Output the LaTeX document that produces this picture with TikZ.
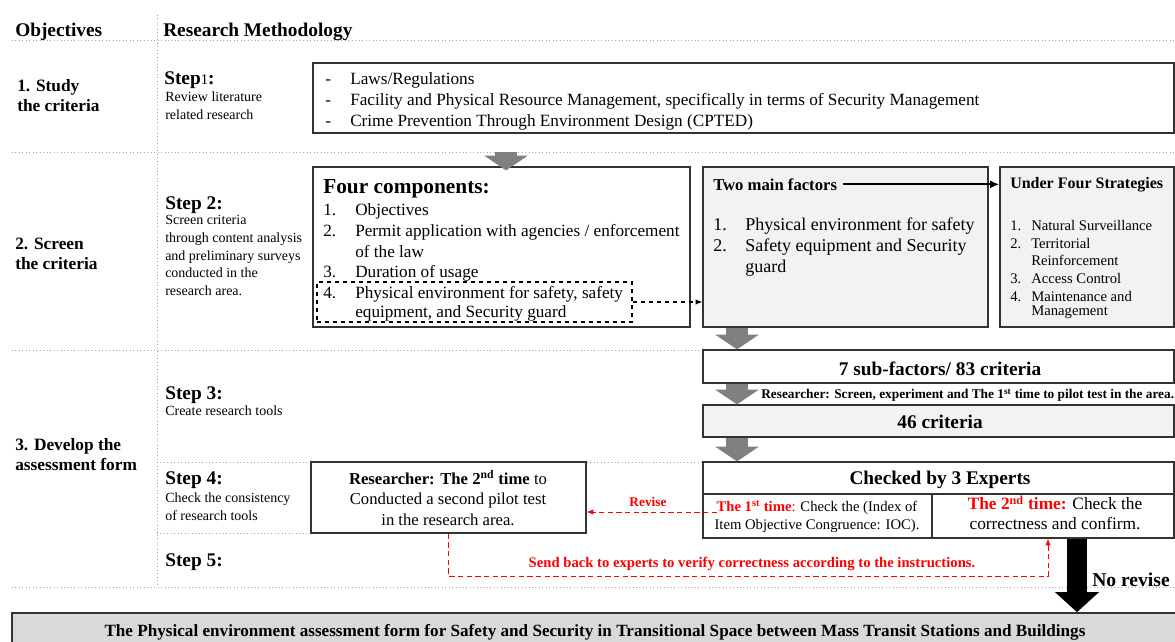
\documentclass[tikz,border=0pt]{standalone}
\usepackage{fontspec}
\setmainfont{Liberation Serif}
\usepackage{xcolor}
\usepackage{tikz}
\usetikzlibrary{arrows.meta, positioning, fit, calc}

\definecolor{boxgray}{HTML}{F2F2F2}
\definecolor{formgray}{HTML}{D9D9D9}
\definecolor{arrowgray}{HTML}{808080}
\definecolor{linegray}{HTML}{A6A6A6}
\definecolor{revred}{HTML}{FF0000}

\newcommand\headfont{\fontsize{14.5}{17}\selectfont\bfseries}
\newcommand\labfont{\fontsize{13}{15}\selectfont\bfseries}
\newcommand\stepfont{\fontsize{14.5}{17}\selectfont\bfseries}
\newcommand\descfont{\fontsize{10.5}{13.3}\selectfont}
\newcommand\bodyfont{\fontsize{12.9}{15.5}\selectfont}
\newcommand\stratfont{\fontsize{11}{13}\selectfont}
\newcommand\notefont{\fontsize{10}{12}\selectfont\bfseries}

\begin{document}
\begin{tikzpicture}[x=0.75pt,y=-0.75pt,inner sep=0pt,
  panel/.style={draw=black!80,line width=0.9pt,fill=white,inner sep=0pt},
  graypanel/.style={panel,fill=boxgray},
  sepline/.style={linegray,dotted,line width=0.6pt},
  blockarrow/.style={arrowgray,line width=16.5pt,-{Triangle[length=11pt,width=32pt]}},
  bigarrow/.style={black,line width=15pt,-{Triangle[length=15pt,width=32pt]}},
  redflow/.style={revred,dash pattern=on 4pt off 2.5pt,line width=0.7pt,-{Latex[length=5pt,width=4pt]}},
  txt/.style={anchor=west,yshift=-1.5pt,font=\bodyfont},
  objlbl/.style={anchor=north west,yshift=-1.5pt,align=left,font=\labfont},
  steplbl/.style={anchor=west,yshift=-1.5pt,font=\stepfont},
  stepdesc/.style={anchor=north west,yshift=-1.5pt,align=left,font=\descfont}]
\useasboundingbox (0,0) rectangle (1175,642);

% table lines
\foreach \y in {40,152,350,587} {
  \draw[sepline] (12,\y) -- (1175,\y);
}
\draw[sepline] (157,462) -- (1175,462);
\draw[sepline] (157,533) -- (311,533);
\draw[sepline] (157,15) -- (157,587);

\node[anchor=west,yshift=-1.5pt,font=\headfont] (hobj) at (15,30) {Objectives};
\node[anchor=west,yshift=-1.5pt,font=\headfont] (hmeth) at (163,30) {Research Methodology};

\node[objlbl] (obj1) at (17,77) {1. Study\\the criteria};
\node[objlbl] (obj2) at (15,236) {2. Screen\\the criteria};
\node[objlbl] (obj3) at (15,436) {3. Develop the\\assessment form};

\node[steplbl] (step1) at (164,78) {Step{\mdseries\fontsize{11}{12}\selectfont 1}:};
\node[stepdesc] (desc1) at (165,90) {Review literature\\related research};
\node[steplbl] (step2) at (165,203) {Step 2:};
\node[stepdesc] (desc2) at (165,213) {Screen criteria\\through content analysis\\and preliminary surveys\\conducted in the\\research area.};
\node[steplbl] (step3) at (165,393) {Step 3:};
\node[stepdesc] (desc3) at (165,404) {Create research tools};
\node[steplbl] (step4) at (165,478) {Step 4:};
\node[stepdesc] (desc4) at (165,491) {Check the consistency\\of research tools};
\node[steplbl] (step5) at (165,560) {Step 5:};

% step 1
\node[panel,fit={(313,63) (1174,133)}] (lit) {};
\foreach \t [count=\i] in {{Laws/Regulations},
    {Facility and Physical Resource Management, specifically in terms of Security Management},
    {Crime Prevention Through Environment Design (CPTED)}} {
  \node[txt] (lit\i) at (325,57+21*\i) {\makebox[18.75pt][l]{-}\t};
}

% step 2
\node[panel,fit={(313,167) (690,327)}] (comp) {};
\coordinate (a1) at (506,152);
\draw[blockarrow] (a1) -- ([yshift=-3pt]a1 |- comp.north);
\node[anchor=west,yshift=-1.5pt,font=\fontsize{16}{18}\selectfont\bfseries] (comph) at (323,187) {Four components:};
\foreach \n/\t/\y [count=\i] in {1./Objectives/209,
    2./{Permit application with agencies / enforcement}/230,
    /{of the law}/250, 3./{Duration of usage}/271,
    4./{Physical environment for safety, safety}/292,
    /{equipment, and Security guard}/311} {
  \node[txt] (comp\i) at (323,\y) {\makebox[24pt][l]{\n}\t};
}
\node[draw=black,dashed,line width=0.9pt,fit={(317,282) (632,322)}] (comp4box) {};

\node[graypanel,fit={(703,167) (988,327)}] (fac) {};
\node[anchor=west,yshift=-1pt,font=\fontsize{12.5}{15}\selectfont\bfseries] (fach) at (713,183) {Two main factors};
\foreach \n/\t/\y [count=\i] in {1./{Physical environment for safety}/224,
    2./{Safety equipment and Security}/245, /guard/266} {
  \node[txt,font=\fontsize{13.5}{16}\selectfont] (fac\i) at (713,\y) {\makebox[24pt][l]{\n}\t};
}
\draw[dashed,line width=0.8pt,-{Latex[length=5pt,width=4pt]}] (comp4box.east) -- (fac.west |- comp4box.east);

\node[graypanel,fit={(1000,167) (1174,327)}] (strat) {};
\node[anchor=west,yshift=-1pt,font=\fontsize{12}{15}\selectfont\bfseries] (strath) at (1010,183) {Under Four Strategies};
\foreach \n/\t/\y [count=\i] in {1./{Natural Surveillance}/224, 2./Territorial/242,
    /Reinforcement/259, 3./{Access Control}/277, 4./{Maintenance and}/295,
    /Management/311} {
  \node[anchor=west,yshift=-1pt,font=\stratfont] (strat\i) at (1010,\y) {\makebox[15.75pt][l]{\n}\t};
}
\draw[line width=1.6pt,-{Latex[length=7pt,width=6pt]}] ([xshift=4pt]fach.east) -- (strat.west |- fach.east);

% step 3
\coordinate (ax) at (737,0);
\node[panel,fit={(703,350) (1174,383)}] (sub) {};
\node[yshift=-1pt,font=\fontsize{14.5}{17}\selectfont\bfseries] (subt) at (940,367) {7 sub-factors/ 83 criteria};
\draw[blockarrow] (fac.south -| ax) -- (sub.north -| ax);

\node[graypanel,fit={(703,405) (1174,437)}] (crit) {};
\node[yshift=-1pt,font=\fontsize{14.5}{17}\selectfont\bfseries] (critt) at (940,421) {46 criteria};
\draw[blockarrow] (sub.south -| ax) -- (crit.north -| ax);
\node[anchor=west,yshift=-1pt,font=\notefont] (pilot) at (761,394) {Researcher: Screen, experiment and The 1\textsuperscript{st} time to pilot test in the area.};

% step 4
\node[panel,fit={(703,462) (1174,494)}] (chk) {};
\node[yshift=-1pt,font=\fontsize{14.5}{17}\selectfont\bfseries] (chkt) at (940,479) {Checked by 3 Experts};
\draw[blockarrow] (crit.south -| ax) -- (chk.north -| ax);
\node[panel,fit={(703,494) (932,538)}] (chk1) {};
\node[panel,fit={(932,494) (1174,538)}] (chk2) {};
\node[align=center,font=\fontsize{11}{13.5}\selectfont] (chk1t) at (817,517)
  {\textcolor{revred}{\textbf{The 1\textsuperscript{st} time}:} Check the (Index of\\Item Objective Congruence: IOC).};
\node[align=center,font=\fontsize{13}{15}\selectfont] (chk2t) at (1055,513)
  {\textcolor{revred}{\textbf{The 2\textsuperscript{nd} time:}} Check the\\correctness and confirm.};

\node[panel,fit={(311,462) (586,533)}] (rs) {};
\node[align=center,font=\fontsize{12.5}{15.4}\selectfont] (rst) at (448,498)
  {\textbf{Researcher: The 2\textsuperscript{nd} time} to\\Conducted a second pilot test\\in the research area.};

\coordinate (rv) at (717,512);
\draw[redflow] (rv) -- (rs.east |- rv);
\node[font=\fontsize{10}{12}\selectfont\bfseries,text=revred] (revl) at (648,502) {Revise};

% step 5
\coordinate (sb) at (1048,576);
\draw[redflow] (rs.south) |- (sb) -- (sb |- chk2.south);
\node[font=\fontsize{11}{13}\selectfont\bfseries,text=revred] (sbl) at (752,564) {Send back to experts to verify correctness according to the instructions.};

\node[panel,fill=formgray,line width=1.2pt,fit={(12,613) (1185,660)}] (form) {};
\node[yshift=-1pt,font=\fontsize{12.85}{15}\selectfont\bfseries] (formt) at (595,631) {The Physical environment assessment form for Safety and Security in Transitional Space between Mass Transit Stations and Buildings};

\coordinate (nr) at (1077,0);
\draw[bigarrow] (chk2.south -| nr) -- (form.north -| nr);
\node[anchor=west,yshift=-1pt,font=\fontsize{14.7}{17}\selectfont\bfseries] (nrl) at (1092,578) {No revise};
\end{tikzpicture}
\end{document}
